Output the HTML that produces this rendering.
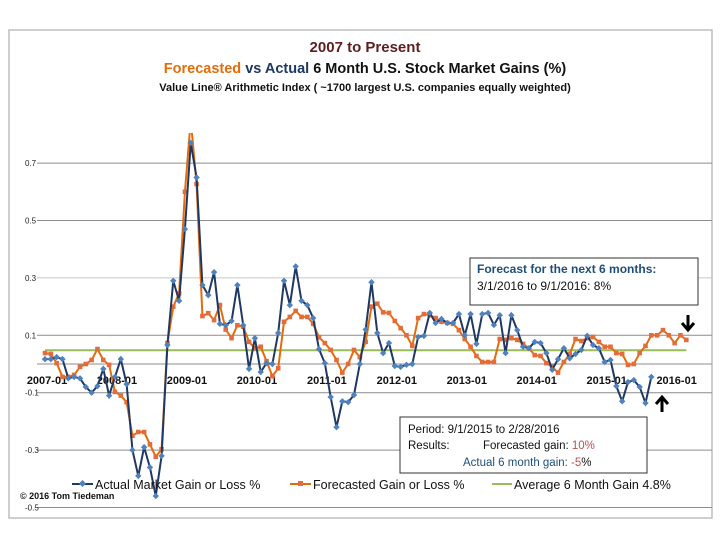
<!DOCTYPE html>
<html><head><meta charset="utf-8"><style>
body{margin:0;background:#fff;width:720px;height:540px;overflow:hidden;font-family:"Liberation Sans",sans-serif}
svg text{font-family:"Liberation Sans",sans-serif}
</style></head><body>
<svg id="chart" width="720" height="540" xmlns="http://www.w3.org/2000/svg">
<rect x="9" y="30" width="703" height="488" fill="#fff" stroke="#bdbdbd" stroke-width="1.5"/>
<text x="365" y="52" text-anchor="middle" font-size="15" font-weight="bold" fill="#5e1e1e">2007 to Present</text>
<text x="365" y="73" text-anchor="middle" font-size="14.5" font-weight="bold" fill="#111"><tspan fill="#e46c0a">Forecasted</tspan> <tspan fill="#1f3864">vs</tspan> <tspan fill="#1f3864">Actual</tspan> 6 Month U.S. Stock Market Gains (%)</text>
<text x="365" y="91" text-anchor="middle" font-size="11" font-weight="bold" fill="#111">Value Line® Arithmetic Index ( ~1700 largest U.S. companies equally weighted)</text>
<g id="grid"></g><g id="ylabels"></g><g id="xlabels"></g><g id="series"></g>
<rect x="470" y="258" width="228" height="47" fill="#fff" stroke="#333"/>
<text x="477" y="273" font-size="12" font-weight="bold" fill="#1f4e79">Forecast for  the next 6 months:</text>
<text x="477" y="290" font-size="12" fill="#111">3/1/2016 to 9/1/2016:  8%</text>
<rect x="400" y="417" width="247" height="56" fill="#fff" stroke="#333"/>
<text x="408" y="433" font-size="11.5" fill="#111">Period:    9/1/2015 to 2/28/2016</text>
<text x="408" y="449" font-size="11.5" fill="#111">Results:</text>
<text x="483" y="449" font-size="11.5" fill="#111">Forecasted gain:   <tspan fill="#c0504d">10%</tspan></text>
<text x="463" y="466" font-size="11.5" fill="#1f4e79">Actual 6 month gain:   <tspan fill="#c0504d">-5</tspan><tspan fill="#111">%</tspan></text>
<g stroke="#000" stroke-width="3" fill="none"><line x1="688" y1="315" x2="688" y2="329"/><polyline points="682,323 688,330 694,323"/></g>
<g stroke="#000" stroke-width="3" fill="none"><line x1="662" y1="398" x2="662" y2="412"/><polyline points="656,404 662,397 668,404"/></g>
<g>
<line x1="72" y1="484" x2="93" y2="484" stroke="#1f3864" stroke-width="2"/><rect x="80" y="481" width="5" height="5" fill="#4f81bd" transform="rotate(45 82.5 483.5)"/>
<text x="95" y="489" font-size="12.5" fill="#111">Actual Market Gain or Loss %</text>
<line x1="290" y1="484" x2="311" y2="484" stroke="#e46c0a" stroke-width="2"/><rect x="298" y="481" width="5" height="5" fill="#e36c3a"/>
<text x="313" y="489" font-size="12.5" fill="#111">Forecasted Gain or Loss %</text>
<line x1="492" y1="484" x2="512" y2="484" stroke="#9bbb59" stroke-width="2"/>
<text x="514" y="489" font-size="12.5" fill="#111">Average 6 Month Gain 4.8%</text>
</g>
<text x="20" y="499" font-size="9" font-weight="bold" fill="#111">©  2016 Tom Tiedeman</text>
</svg>
<script>
const actual=[.017,.017,.024,.017,-.05,-.045,-.05,-.08,-.1,-.077,-.017,-.11,-.045,.017,-.07,-.30,-.39,-.29,-.36,-.46,-.32,.066,.29,.22,.47,.77,.65,.275,.24,.32,.14,.135,.15,.275,.135,-.017,.09,-.028,.003,0,.108,.29,.205,.34,.22,.205,.16,.052,.003,-.115,-.22,-.13,-.133,-.108,0,
.12,.285,.108,.038,.073,-.007,-.01,-.003,0,.094,.098,.178,.143,.157,.143,.143,.174,.1,.174,.07,.174,.178,.136,.17,.038,.17,.118,.06,.055,.077,.073,.038,-.02,.017,.055,.02,.035,.049,.098,.066,.055,.007,.014,-.077,-.13,-.063,-.056,-.08,-.136,-.045];
const forecast=[.038,.035,.003,-.045,-.045,-.038,-.01,0,.014,.052,.014,-.003,-.097,-.11,-.133,-.25,-.237,-.237,-.28,-.323,-.297,.073,.2,.246,.60,.85,.627,.167,.177,.153,.205,.12,.09,.135,.13,.077,.055,.06,.01,-.042,-.015,.147,.164,.185,.164,.164,.14,.093,.073,.049,.014,-.03,0,.049,.024,
.077,.2,.21,.18,.178,.15,.125,.1,.063,.16,.174,.17,.16,.147,.143,.14,.118,.087,.06,.028,.007,.007,.007,.087,.084,.09,.084,.07,.055,.031,.028,.003,-.01,-.03,.007,.035,.087,.08,.09,.094,.077,.06,.06,.038,.035,-.003,0,.038,.063,.1,.1,.118,.1,.073,.1,.084];
const average=0.048;
const yTicks=[0.7,0.5,0.3,0.1,-0.1,-0.3,-0.5];
const yGrid=[0.7,0.5,0.3,0.1,0,-0.1,-0.3,-0.5];
const xTickLabels=["2007-01","2008-01","2009-01","2010-01","2011-01","2012-01","2013-01","2014-01","2015-01","2016-01"];
const NS="http://www.w3.org/2000/svg";
const X=i=>45+i*5.83, Y=v=>364-v*287, L=37, R=712;
function mk(t,a,p){const e=document.createElementNS(NS,t);for(const k in a)e.setAttribute(k,a[k]);p.appendChild(e);return e;}
const g=document.getElementById('grid');
yGrid.forEach(v=>{const l=mk('line',{x1:L,x2:R,y1:Y(v),y2:Y(v),stroke:v==0.3?'#c8c8c8':'#8c8c8c','stroke-width':1},g);

});
const yl=document.getElementById('ylabels');
yTicks.forEach(v=>{const t=mk('text',{x:25,y:Y(v)+3,'font-size':8,fill:'#222'},yl);t.textContent=String(v).replace('0.','0.').replace('-0.','-0.');

});
const xl=document.getElementById('xlabels');
xTickLabels.forEach((s,k)=>{const t=mk('text',{x:X(k*12)+2,y:384,'font-size':11,'text-anchor':'middle',fill:'#111','font-weight':'bold'},xl);t.textContent=s;

});
const s=document.getElementById('series');
const clip=mk('clipPath',{id:'pc'},mk('defs',{},s));mk('rect',{x:L,y:133,width:R-L,height:390},clip);
const avg=mk('line',{x1:X(0),x2:X(forecast.length-1),y1:Y(average),y2:Y(average),stroke:'#9bbb59','stroke-width':2},s);


const fl=mk('polyline',{points:forecast.map((v,i)=>X(i)+','+Y(v)).join(' '),fill:'none',stroke:'#e46c0a','stroke-width':2,'clip-path':'url(#pc)'},s);


forecast.forEach((v,i)=>{if(Y(v)<135)return;const m=mk('rect',{x:X(i)-2.3,y:Y(v)-2.3,width:4.6,height:4.6,fill:'#e36c3a'},s);

});
const al=mk('polyline',{points:actual.map((v,i)=>X(i)+','+Y(v)).join(' '),fill:'none',stroke:'#1f3864','stroke-width':2},s);


actual.forEach((v,i)=>{const x=X(i),y=Y(v);const m=mk('polygon',{points:`${x},${y-3.2} ${x+3.2},${y} ${x},${y+3.2} ${x-3.2},${y}`,fill:'#4f81bd'},s);

});
</script>
</body></html>
